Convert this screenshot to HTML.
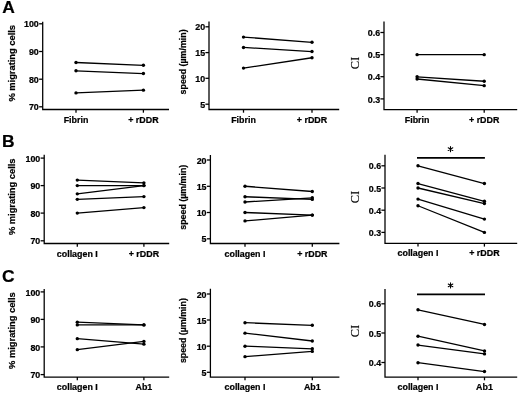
<!DOCTYPE html>
<html><head><meta charset="utf-8"><title>Figure</title>
<style>
html,body{margin:0;padding:0;background:#fff;}
body{width:520px;height:393px;overflow:hidden;}
svg{display:block;filter:blur(0.35px);}
text{font-family:"Liberation Sans",sans-serif;font-weight:bold;fill:#000;stroke:#000;stroke-width:0.22px;}
.t{font-size:8.9px;}
.L{font-size:17.4px;}
.y1{font-size:9.4px;}
.y2{font-size:8.9px;}
.ci{font-family:"Liberation Serif",serif;font-weight:normal;font-size:12.5px;stroke-width:0.15px;}
.star{font-family:"Liberation Serif",serif;font-weight:normal;font-size:16px;stroke-width:0.1px;}
</style></head>
<body>
<svg width="520" height="393" viewBox="0 0 520 393">
<rect width="520" height="393" fill="#fff"/>
<text x="2.2" y="13.2" class="L">A</text>
<text x="1.9" y="147.3" class="L">B</text>
<text x="2.1" y="282.4" class="L">C</text>
<path d="M42.7 21.8 V109.5 H169" fill="none" stroke="#000" stroke-width="1.28" stroke-linejoin="miter"/>
<line x1="39.1" y1="23.8" x2="42.7" y2="23.8" stroke="#000" stroke-width="1.28"/>
<text x="38.800000000000004" y="27.45" text-anchor="end" class="t">100</text>
<line x1="39.1" y1="51.5" x2="42.7" y2="51.5" stroke="#000" stroke-width="1.28"/>
<text x="38.800000000000004" y="55.15" text-anchor="end" class="t">90</text>
<line x1="39.1" y1="79.2" x2="42.7" y2="79.2" stroke="#000" stroke-width="1.28"/>
<text x="38.800000000000004" y="82.85" text-anchor="end" class="t">80</text>
<line x1="39.1" y1="106.8" x2="42.7" y2="106.8" stroke="#000" stroke-width="1.28"/>
<text x="38.800000000000004" y="110.45" text-anchor="end" class="t">70</text>
<line x1="76" y1="109.5" x2="76" y2="112.7" stroke="#000" stroke-width="1.28"/>
<text x="76" y="122.55" text-anchor="middle" class="t">Fibrin</text>
<line x1="143.4" y1="109.5" x2="143.4" y2="112.7" stroke="#000" stroke-width="1.28"/>
<text x="143.4" y="122.55" text-anchor="middle" class="t">+ rDDR</text>
<line x1="76" y1="62.51" x2="143.4" y2="65.28" stroke="#000" stroke-width="1.3"/>
<circle cx="76" cy="62.51" r="1.7"/><circle cx="143.4" cy="65.28" r="1.7"/>
<line x1="76" y1="70.81" x2="143.4" y2="73.57" stroke="#000" stroke-width="1.3"/>
<circle cx="76" cy="70.81" r="1.7"/><circle cx="143.4" cy="73.57" r="1.7"/>
<line x1="76" y1="92.92" x2="143.4" y2="90.16" stroke="#000" stroke-width="1.3"/>
<circle cx="76" cy="92.92" r="1.7"/><circle cx="143.4" cy="90.16" r="1.7"/>
<path d="M209 21.5 V109.5 H339.2" fill="none" stroke="#000" stroke-width="1.28" stroke-linejoin="miter"/>
<line x1="205.4" y1="26.8" x2="209" y2="26.8" stroke="#000" stroke-width="1.28"/>
<text x="205.1" y="30.45" text-anchor="end" class="t">20</text>
<line x1="205.4" y1="52.6" x2="209" y2="52.6" stroke="#000" stroke-width="1.28"/>
<text x="205.1" y="56.25" text-anchor="end" class="t">15</text>
<line x1="205.4" y1="78.3" x2="209" y2="78.3" stroke="#000" stroke-width="1.28"/>
<text x="205.1" y="81.95" text-anchor="end" class="t">10</text>
<line x1="205.4" y1="104.2" x2="209" y2="104.2" stroke="#000" stroke-width="1.28"/>
<text x="205.1" y="107.85" text-anchor="end" class="t">5</text>
<line x1="243.5" y1="109.5" x2="243.5" y2="112.7" stroke="#000" stroke-width="1.28"/>
<text x="243.5" y="122.55" text-anchor="middle" class="t">Fibrin</text>
<line x1="312" y1="109.5" x2="312" y2="112.7" stroke="#000" stroke-width="1.28"/>
<text x="312" y="122.55" text-anchor="middle" class="t">+ rDDR</text>
<line x1="243.5" y1="37.12" x2="312" y2="42.28" stroke="#000" stroke-width="1.3"/>
<circle cx="243.5" cy="37.12" r="1.7"/><circle cx="312" cy="42.28" r="1.7"/>
<line x1="243.5" y1="47.44" x2="312" y2="51.57" stroke="#000" stroke-width="1.3"/>
<circle cx="243.5" cy="47.44" r="1.7"/><circle cx="312" cy="51.57" r="1.7"/>
<line x1="243.5" y1="68.08" x2="312" y2="57.76" stroke="#000" stroke-width="1.3"/>
<circle cx="243.5" cy="68.08" r="1.7"/><circle cx="312" cy="57.76" r="1.7"/>
<path d="M384 21.5 V109.6 H517.2" fill="none" stroke="#000" stroke-width="1.28" stroke-linejoin="miter"/>
<line x1="380.4" y1="32.5" x2="384" y2="32.5" stroke="#000" stroke-width="1.28"/>
<text x="380.09999999999997" y="36.15" text-anchor="end" class="t">0.6</text>
<line x1="380.4" y1="54.6" x2="384" y2="54.6" stroke="#000" stroke-width="1.28"/>
<text x="380.09999999999997" y="58.25" text-anchor="end" class="t">0.5</text>
<line x1="380.4" y1="76.7" x2="384" y2="76.7" stroke="#000" stroke-width="1.28"/>
<text x="380.09999999999997" y="80.35" text-anchor="end" class="t">0.4</text>
<line x1="380.4" y1="98.9" x2="384" y2="98.9" stroke="#000" stroke-width="1.28"/>
<text x="380.09999999999997" y="102.55" text-anchor="end" class="t">0.3</text>
<line x1="417.1" y1="109.6" x2="417.1" y2="112.8" stroke="#000" stroke-width="1.28"/>
<text x="417.1" y="122.65" text-anchor="middle" class="t">Fibrin</text>
<line x1="484.2" y1="109.6" x2="484.2" y2="112.8" stroke="#000" stroke-width="1.28"/>
<text x="484.2" y="122.65" text-anchor="middle" class="t">+ rDDR</text>
<line x1="417.1" y1="54.65" x2="484.2" y2="54.65" stroke="#000" stroke-width="1.3"/>
<circle cx="417.1" cy="54.65" r="1.7"/><circle cx="484.2" cy="54.65" r="1.7"/>
<line x1="417.1" y1="76.80" x2="484.2" y2="81.23" stroke="#000" stroke-width="1.3"/>
<circle cx="417.1" cy="76.80" r="1.7"/><circle cx="484.2" cy="81.23" r="1.7"/>
<line x1="417.1" y1="79.01" x2="484.2" y2="85.66" stroke="#000" stroke-width="1.3"/>
<circle cx="417.1" cy="79.01" r="1.7"/><circle cx="484.2" cy="85.66" r="1.7"/>
<path d="M44.2 154.8 V243.5 H169.2" fill="none" stroke="#000" stroke-width="1.28" stroke-linejoin="miter"/>
<line x1="40.6" y1="158.1" x2="44.2" y2="158.1" stroke="#000" stroke-width="1.28"/>
<text x="40.300000000000004" y="161.75" text-anchor="end" class="t">100</text>
<line x1="40.6" y1="185.6" x2="44.2" y2="185.6" stroke="#000" stroke-width="1.28"/>
<text x="40.300000000000004" y="189.25" text-anchor="end" class="t">90</text>
<line x1="40.6" y1="213.1" x2="44.2" y2="213.1" stroke="#000" stroke-width="1.28"/>
<text x="40.300000000000004" y="216.75" text-anchor="end" class="t">80</text>
<line x1="40.6" y1="240.8" x2="44.2" y2="240.8" stroke="#000" stroke-width="1.28"/>
<text x="40.300000000000004" y="244.45" text-anchor="end" class="t">70</text>
<line x1="77.3" y1="243.5" x2="77.3" y2="246.7" stroke="#000" stroke-width="1.28"/>
<text x="77.3" y="256.55" text-anchor="middle" class="t">collagen I</text>
<line x1="143.9" y1="243.5" x2="143.9" y2="246.7" stroke="#000" stroke-width="1.28"/>
<text x="143.9" y="256.55" text-anchor="middle" class="t">+ rDDR</text>
<line x1="77.3" y1="180.10" x2="143.9" y2="182.85" stroke="#000" stroke-width="1.3"/>
<circle cx="77.3" cy="180.10" r="1.7"/><circle cx="143.9" cy="182.85" r="1.7"/>
<line x1="77.3" y1="185.60" x2="143.9" y2="185.60" stroke="#000" stroke-width="1.3"/>
<circle cx="77.3" cy="185.60" r="1.7"/><circle cx="143.9" cy="185.60" r="1.7"/>
<line x1="77.3" y1="193.85" x2="143.9" y2="185.60" stroke="#000" stroke-width="1.3"/>
<circle cx="77.3" cy="193.85" r="1.7"/><circle cx="143.9" cy="185.60" r="1.7"/>
<line x1="77.3" y1="199.35" x2="143.9" y2="196.60" stroke="#000" stroke-width="1.3"/>
<circle cx="77.3" cy="199.35" r="1.7"/><circle cx="143.9" cy="196.60" r="1.7"/>
<line x1="77.3" y1="213.10" x2="143.9" y2="207.60" stroke="#000" stroke-width="1.3"/>
<circle cx="77.3" cy="213.10" r="1.7"/><circle cx="143.9" cy="207.60" r="1.7"/>
<path d="M210.4 155 V243.5 H339.4" fill="none" stroke="#000" stroke-width="1.28" stroke-linejoin="miter"/>
<line x1="206.8" y1="160" x2="210.4" y2="160" stroke="#000" stroke-width="1.28"/>
<text x="206.5" y="163.65" text-anchor="end" class="t">20</text>
<line x1="206.8" y1="186.3" x2="210.4" y2="186.3" stroke="#000" stroke-width="1.28"/>
<text x="206.5" y="189.95" text-anchor="end" class="t">15</text>
<line x1="206.8" y1="212.5" x2="210.4" y2="212.5" stroke="#000" stroke-width="1.28"/>
<text x="206.5" y="216.15" text-anchor="end" class="t">10</text>
<line x1="206.8" y1="238.8" x2="210.4" y2="238.8" stroke="#000" stroke-width="1.28"/>
<text x="206.5" y="242.45" text-anchor="end" class="t">5</text>
<line x1="245" y1="243.5" x2="245" y2="246.7" stroke="#000" stroke-width="1.28"/>
<text x="245" y="256.55" text-anchor="middle" class="t">collagen I</text>
<line x1="312.3" y1="243.5" x2="312.3" y2="246.7" stroke="#000" stroke-width="1.28"/>
<text x="312.3" y="256.55" text-anchor="middle" class="t">+ rDDR</text>
<line x1="245" y1="186.25" x2="312.3" y2="191.50" stroke="#000" stroke-width="1.3"/>
<circle cx="245" cy="186.25" r="1.7"/><circle cx="312.3" cy="191.50" r="1.7"/>
<line x1="245" y1="196.75" x2="312.3" y2="199.38" stroke="#000" stroke-width="1.3"/>
<circle cx="245" cy="196.75" r="1.7"/><circle cx="312.3" cy="199.38" r="1.7"/>
<line x1="245" y1="202.00" x2="312.3" y2="197.80" stroke="#000" stroke-width="1.3"/>
<circle cx="245" cy="202.00" r="1.7"/><circle cx="312.3" cy="197.80" r="1.7"/>
<line x1="245" y1="212.50" x2="312.3" y2="215.12" stroke="#000" stroke-width="1.3"/>
<circle cx="245" cy="212.50" r="1.7"/><circle cx="312.3" cy="215.12" r="1.7"/>
<line x1="245" y1="220.90" x2="312.3" y2="215.12" stroke="#000" stroke-width="1.3"/>
<circle cx="245" cy="220.90" r="1.7"/><circle cx="312.3" cy="215.12" r="1.7"/>
<path d="M385 154.8 V243.4 H517.2" fill="none" stroke="#000" stroke-width="1.28" stroke-linejoin="miter"/>
<line x1="381.4" y1="165.8" x2="385" y2="165.8" stroke="#000" stroke-width="1.28"/>
<text x="381.09999999999997" y="169.45" text-anchor="end" class="t">0.6</text>
<line x1="381.4" y1="188" x2="385" y2="188" stroke="#000" stroke-width="1.28"/>
<text x="381.09999999999997" y="191.65" text-anchor="end" class="t">0.5</text>
<line x1="381.4" y1="210.2" x2="385" y2="210.2" stroke="#000" stroke-width="1.28"/>
<text x="381.09999999999997" y="213.85" text-anchor="end" class="t">0.4</text>
<line x1="381.4" y1="232.4" x2="385" y2="232.4" stroke="#000" stroke-width="1.28"/>
<text x="381.09999999999997" y="236.05" text-anchor="end" class="t">0.3</text>
<line x1="418" y1="243.4" x2="418" y2="246.6" stroke="#000" stroke-width="1.28"/>
<text x="418" y="256.45" text-anchor="middle" class="t">collagen I</text>
<line x1="484.4" y1="243.4" x2="484.4" y2="246.6" stroke="#000" stroke-width="1.28"/>
<text x="484.4" y="256.45" text-anchor="middle" class="t">+ rDDR</text>
<line x1="418" y1="165.80" x2="484.4" y2="183.56" stroke="#000" stroke-width="1.3"/>
<circle cx="418" cy="165.80" r="1.7"/><circle cx="484.4" cy="183.56" r="1.7"/>
<line x1="418" y1="183.56" x2="484.4" y2="201.32" stroke="#000" stroke-width="1.3"/>
<circle cx="418" cy="183.56" r="1.7"/><circle cx="484.4" cy="201.32" r="1.7"/>
<line x1="418" y1="188.00" x2="484.4" y2="203.54" stroke="#000" stroke-width="1.3"/>
<circle cx="418" cy="188.00" r="1.7"/><circle cx="484.4" cy="203.54" r="1.7"/>
<line x1="418" y1="199.10" x2="484.4" y2="219.08" stroke="#000" stroke-width="1.3"/>
<circle cx="418" cy="199.10" r="1.7"/><circle cx="484.4" cy="219.08" r="1.7"/>
<line x1="418" y1="205.76" x2="484.4" y2="232.40" stroke="#000" stroke-width="1.3"/>
<circle cx="418" cy="205.76" r="1.7"/><circle cx="484.4" cy="232.40" r="1.7"/>
<line x1="417" y1="157.95" x2="484.9" y2="157.95" stroke="#000" stroke-width="1.7"/>
<path d="M450.50 146.50 V151.70 M448.20 147.75 L452.80 150.45 M448.20 150.45 L452.80 147.75" stroke="#000" stroke-width="1.05" stroke-linecap="round" fill="none"/>
<circle cx="450.50" cy="149.10" r="1.05"/>
<path d="M44.2 289 V377.1 H169.2" fill="none" stroke="#000" stroke-width="1.28" stroke-linejoin="miter"/>
<line x1="40.6" y1="291.9" x2="44.2" y2="291.9" stroke="#000" stroke-width="1.28"/>
<text x="40.300000000000004" y="295.55" text-anchor="end" class="t">100</text>
<line x1="40.6" y1="319.4" x2="44.2" y2="319.4" stroke="#000" stroke-width="1.28"/>
<text x="40.300000000000004" y="323.05" text-anchor="end" class="t">90</text>
<line x1="40.6" y1="346.9" x2="44.2" y2="346.9" stroke="#000" stroke-width="1.28"/>
<text x="40.300000000000004" y="350.55" text-anchor="end" class="t">80</text>
<line x1="40.6" y1="374.6" x2="44.2" y2="374.6" stroke="#000" stroke-width="1.28"/>
<text x="40.300000000000004" y="378.25" text-anchor="end" class="t">70</text>
<line x1="77.3" y1="377.1" x2="77.3" y2="380.3" stroke="#000" stroke-width="1.28"/>
<text x="77.3" y="390.15" text-anchor="middle" class="t">collagen I</text>
<line x1="143.9" y1="377.1" x2="143.9" y2="380.3" stroke="#000" stroke-width="1.28"/>
<text x="143.9" y="390.15" text-anchor="middle" class="t">Ab1</text>
<line x1="77.3" y1="322.15" x2="143.9" y2="324.90" stroke="#000" stroke-width="1.3"/>
<circle cx="77.3" cy="322.15" r="1.7"/><circle cx="143.9" cy="324.90" r="1.7"/>
<line x1="77.3" y1="324.90" x2="143.9" y2="324.90" stroke="#000" stroke-width="1.3"/>
<circle cx="77.3" cy="324.90" r="1.7"/><circle cx="143.9" cy="324.90" r="1.7"/>
<line x1="77.3" y1="338.65" x2="143.9" y2="344.15" stroke="#000" stroke-width="1.3"/>
<circle cx="77.3" cy="338.65" r="1.7"/><circle cx="143.9" cy="344.15" r="1.7"/>
<line x1="77.3" y1="349.65" x2="143.9" y2="341.40" stroke="#000" stroke-width="1.3"/>
<circle cx="77.3" cy="349.65" r="1.7"/><circle cx="143.9" cy="341.40" r="1.7"/>
<path d="M210.4 288.8 V377.1 H339.4" fill="none" stroke="#000" stroke-width="1.28" stroke-linejoin="miter"/>
<line x1="206.8" y1="294" x2="210.4" y2="294" stroke="#000" stroke-width="1.28"/>
<text x="206.5" y="297.65" text-anchor="end" class="t">20</text>
<line x1="206.8" y1="320" x2="210.4" y2="320" stroke="#000" stroke-width="1.28"/>
<text x="206.5" y="323.65" text-anchor="end" class="t">15</text>
<line x1="206.8" y1="346.2" x2="210.4" y2="346.2" stroke="#000" stroke-width="1.28"/>
<text x="206.5" y="349.85" text-anchor="end" class="t">10</text>
<line x1="206.8" y1="372.3" x2="210.4" y2="372.3" stroke="#000" stroke-width="1.28"/>
<text x="206.5" y="375.95" text-anchor="end" class="t">5</text>
<line x1="245" y1="377.1" x2="245" y2="380.3" stroke="#000" stroke-width="1.28"/>
<text x="245" y="390.15" text-anchor="middle" class="t">collagen I</text>
<line x1="312.3" y1="377.1" x2="312.3" y2="380.3" stroke="#000" stroke-width="1.28"/>
<text x="312.3" y="390.15" text-anchor="middle" class="t">Ab1</text>
<line x1="245" y1="322.71" x2="312.3" y2="325.32" stroke="#000" stroke-width="1.3"/>
<circle cx="245" cy="322.71" r="1.7"/><circle cx="312.3" cy="325.32" r="1.7"/>
<line x1="245" y1="333.15" x2="312.3" y2="340.98" stroke="#000" stroke-width="1.3"/>
<circle cx="245" cy="333.15" r="1.7"/><circle cx="312.3" cy="340.98" r="1.7"/>
<line x1="245" y1="346.20" x2="312.3" y2="348.81" stroke="#000" stroke-width="1.3"/>
<circle cx="245" cy="346.20" r="1.7"/><circle cx="312.3" cy="348.81" r="1.7"/>
<line x1="245" y1="356.64" x2="312.3" y2="351.42" stroke="#000" stroke-width="1.3"/>
<circle cx="245" cy="356.64" r="1.7"/><circle cx="312.3" cy="351.42" r="1.7"/>
<path d="M385 289 V377.1 H517.2" fill="none" stroke="#000" stroke-width="1.28" stroke-linejoin="miter"/>
<line x1="381.4" y1="303.8" x2="385" y2="303.8" stroke="#000" stroke-width="1.28"/>
<text x="381.09999999999997" y="307.45" text-anchor="end" class="t">0.6</text>
<line x1="381.4" y1="333" x2="385" y2="333" stroke="#000" stroke-width="1.28"/>
<text x="381.09999999999997" y="336.65" text-anchor="end" class="t">0.5</text>
<line x1="381.4" y1="362.5" x2="385" y2="362.5" stroke="#000" stroke-width="1.28"/>
<text x="381.09999999999997" y="366.15" text-anchor="end" class="t">0.4</text>
<line x1="418" y1="377.1" x2="418" y2="380.3" stroke="#000" stroke-width="1.28"/>
<text x="418" y="390.15" text-anchor="middle" class="t">collagen I</text>
<line x1="484.5" y1="377.1" x2="484.5" y2="380.3" stroke="#000" stroke-width="1.28"/>
<text x="484.5" y="390.15" text-anchor="middle" class="t">Ab1</text>
<line x1="418" y1="309.78" x2="484.5" y2="324.48" stroke="#000" stroke-width="1.3"/>
<circle cx="418" cy="309.78" r="1.7"/><circle cx="484.5" cy="324.48" r="1.7"/>
<line x1="418" y1="336.24" x2="484.5" y2="350.94" stroke="#000" stroke-width="1.3"/>
<circle cx="418" cy="336.24" r="1.7"/><circle cx="484.5" cy="350.94" r="1.7"/>
<line x1="418" y1="345.06" x2="484.5" y2="353.88" stroke="#000" stroke-width="1.3"/>
<circle cx="418" cy="345.06" r="1.7"/><circle cx="484.5" cy="353.88" r="1.7"/>
<line x1="418" y1="362.70" x2="484.5" y2="371.52" stroke="#000" stroke-width="1.3"/>
<circle cx="418" cy="362.70" r="1.7"/><circle cx="484.5" cy="371.52" r="1.7"/>
<line x1="417" y1="294.3" x2="485.0" y2="294.3" stroke="#000" stroke-width="1.7"/>
<path d="M450.55 282.80 V288.00 M448.25 284.05 L452.85 286.75 M448.25 286.75 L452.85 284.05" stroke="#000" stroke-width="1.05" stroke-linecap="round" fill="none"/>
<circle cx="450.55" cy="285.40" r="1.05"/>
<text transform="translate(15.3 63.3) rotate(-90)" text-anchor="middle" class="y1" textLength="76.6" lengthAdjust="spacing">% migrating cells</text>
<text transform="translate(15.3 196.8) rotate(-90)" text-anchor="middle" class="y1" textLength="76.6" lengthAdjust="spacing">% migrating cells</text>
<text transform="translate(15.3 330.6) rotate(-90)" text-anchor="middle" class="y1" textLength="76.6" lengthAdjust="spacing">% migrating cells</text>
<text transform="translate(185.8 61.9) rotate(-90)" text-anchor="middle" class="y2" textLength="65.0" lengthAdjust="spacing">speed (µm/min)</text>
<text transform="translate(185.8 197.2) rotate(-90)" text-anchor="middle" class="y2" textLength="65.0" lengthAdjust="spacing">speed (µm/min)</text>
<text transform="translate(185.8 330.6) rotate(-90)" text-anchor="middle" class="y2" textLength="65.0" lengthAdjust="spacing">speed (µm/min)</text>
<text transform="translate(358.9 63.0) rotate(-90)" text-anchor="middle" class="ci">CI</text>
<text transform="translate(358.9 197.1) rotate(-90)" text-anchor="middle" class="ci">CI</text>
<text transform="translate(358.9 331.1) rotate(-90)" text-anchor="middle" class="ci">CI</text>
</svg>
</body></html>
